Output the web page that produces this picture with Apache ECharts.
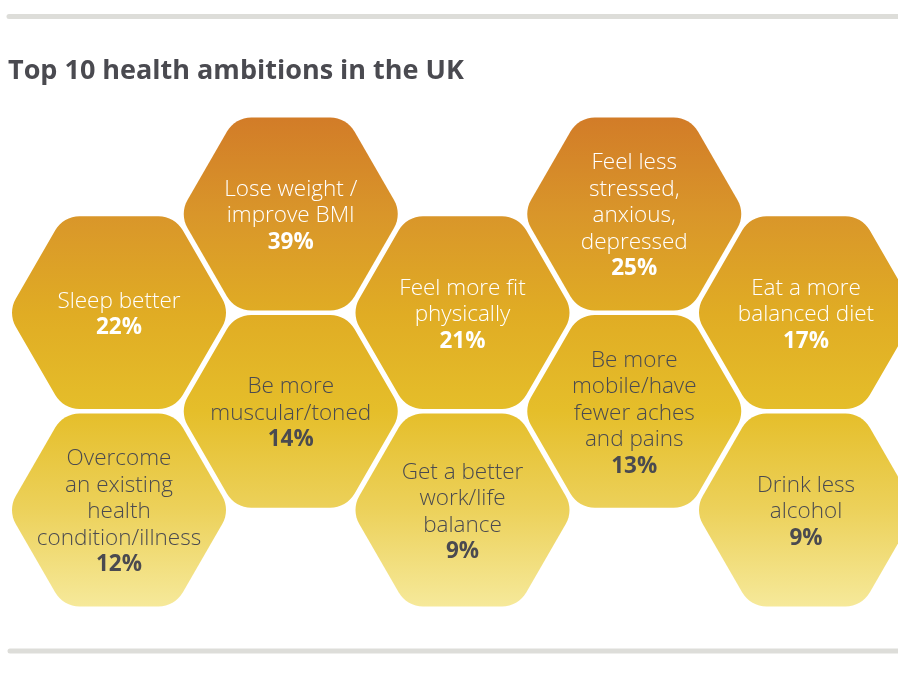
<!DOCTYPE html>
<html>
<head>
<meta charset="utf-8">
<script src="https://cdn.jsdelivr.net/npm/echarts@6/dist/echarts.min.js"></script>
<style>
html,body{margin:0;padding:0;background:#fff;}
#chart{width:898px;height:682px;}
</style>
</head>
<body>
<div id="chart"></div>
<script>
// ---- data ----
var title = 'Top 10 health ambitions in the UK';
var categories = [
  'Lose weight /\nimprove BMI',
  'Feel less\nstressed,\nanxious,\ndepressed',
  'Sleep better',
  'Feel more fit\nphysically',
  'Eat a more\nbalanced diet',
  'Be more\nmuscular/toned',
  'Be more\nmobile/have\nfewer aches\nand pains',
  'Overcome\nan existing\nhealth\ncondition/illness',
  'Get a better\nwork/life\nbalance',
  'Drink less\nalcohol'
];
var values = [39, 25, 22, 21, 17, 14, 13, 12, 9, 9];
// honeycomb slot of each ambition (column, half-row)
var slotCol = [1, 3, 0, 2, 4, 1, 3, 0, 2, 4];
var slotRow = [0, 0, 1, 1, 1, 2, 2, 3, 3, 3];

// ---- chart ----
var chart = echarts.init(document.getElementById('chart'));
var seriesData = categories.map(function (c, i) {
  return { value: [slotCol[i], slotRow[i], values[i]], name: c };
});

var GAP = 4.5;
var CORNER = 28;

function hexPath(cx, cy, R, r) {
  var pts = [];
  for (var k = 0; k < 6; k++) {
    var a = Math.PI / 3 * k;
    pts.push([cx + R * Math.cos(a), cy + R * Math.sin(a)]);
  }
  var d = r * Math.tan(Math.PI / 6);
  var frac = d / R;
  var kc = 0.619;
  var s = '';
  for (var i = 0; i < 6; i++) {
    var V = pts[i], P = pts[(i + 5) % 6], N = pts[(i + 1) % 6];
    var A = [V[0] + (P[0] - V[0]) * frac, V[1] + (P[1] - V[1]) * frac];
    var B = [V[0] + (N[0] - V[0]) * frac, V[1] + (N[1] - V[1]) * frac];
    var c1 = [A[0] + (V[0] - A[0]) * kc, A[1] + (V[1] - A[1]) * kc];
    var c2 = [B[0] + (V[0] - B[0]) * kc, B[1] + (V[1] - B[1]) * kc];
    s += (i === 0 ? 'M' : 'L') + A[0].toFixed(2) + ' ' + A[1].toFixed(2) +
      ' C' + c1[0].toFixed(2) + ' ' + c1[1].toFixed(2) + ' ' + c2[0].toFixed(2) + ' ' + c2[1].toFixed(2) +
      ' ' + B[0].toFixed(2) + ' ' + B[1].toFixed(2) + ' ';
  }
  return s + 'Z';
}

function renderItem(params, api) {
  var col = api.value(0), row = api.value(1), val = api.value(2);
  var p = api.coord([col, row]);
  var rowPx = api.size([0, 1])[1];
  var R = (2 * rowPx - GAP) / Math.sqrt(3);
  var h = Math.sqrt(3) * R;
  var top = api.coord([0, 0])[1] - h / 2;
  var bottom = api.coord([0, 3])[1] + h / 2;
  var name = categories[params.dataIndex];
  var light = row <= 1;
  var txt = light ? '#FFFFFF' : '#4A4A50';
  return {
    type: 'group',
    children: [{
      type: 'path',
      shape: { pathData: hexPath(p[0], p[1], R, CORNER) },
      style: {
        fill: {
          type: 'linear', x: 0, y: top, x2: 0, y2: bottom, global: true,
          colorStops: [
            { offset: 0, color: '#D27C28' },
            { offset: 0.2, color: '#D9962A' },
            { offset: 0.4, color: '#E0AC24' },
            { offset: 0.6, color: '#E5BE2A' },
            { offset: 0.8, color: '#ECD15A' },
            { offset: 1, color: '#F6E99A' }
          ]
        }
      }
    }, {
      type: 'text',
      x: p[0], y: p[1] + 2,
      style: {
        text: name + '\n{b|' + val + '%}',
        fill: txt,
        font: '300 22.5px "Open Sans", "Noto Sans", sans-serif',
        align: 'center',
        verticalAlign: 'middle',
        lineHeight: 26.5,
        rich: {
          b: {
            fontSize: 22.5,
            fontWeight: 'bold',
            fontFamily: '"Open Sans", "Noto Sans", sans-serif',
            lineHeight: 26.5,
            fill: txt
          }
        }
      }
    }]
  };
}

chart.setOption({
  animation: false,
  grid: { left: 119, right: 92, top: 214, bottom: 172 },
  xAxis: { type: 'value', min: 0, max: 4, show: false },
  yAxis: { type: 'value', min: 0, max: 3, inverse: true, show: false },
  graphic: [
    { type: 'line', shape: { x1: 9, y1: 16.5, x2: 900, y2: 16.5 },
      style: { stroke: '#DDDDD9', lineWidth: 5, lineCap: 'round' } },
    { type: 'line', shape: { x1: 10, y1: 651, x2: 900, y2: 651 },
      style: { stroke: '#DDDDD9', lineWidth: 5, lineCap: 'round' } },
    { type: 'text', left: 8, top: 58,
      style: { text: title, font: 'bold 27px "Open Sans", sans-serif', fill: '#4A4A50' } }
  ],
  series: [{
    type: 'custom',
    coordinateSystem: 'cartesian2d',
    renderItem: renderItem,
    data: seriesData
  }]
});
</script>
</body>
</html>
